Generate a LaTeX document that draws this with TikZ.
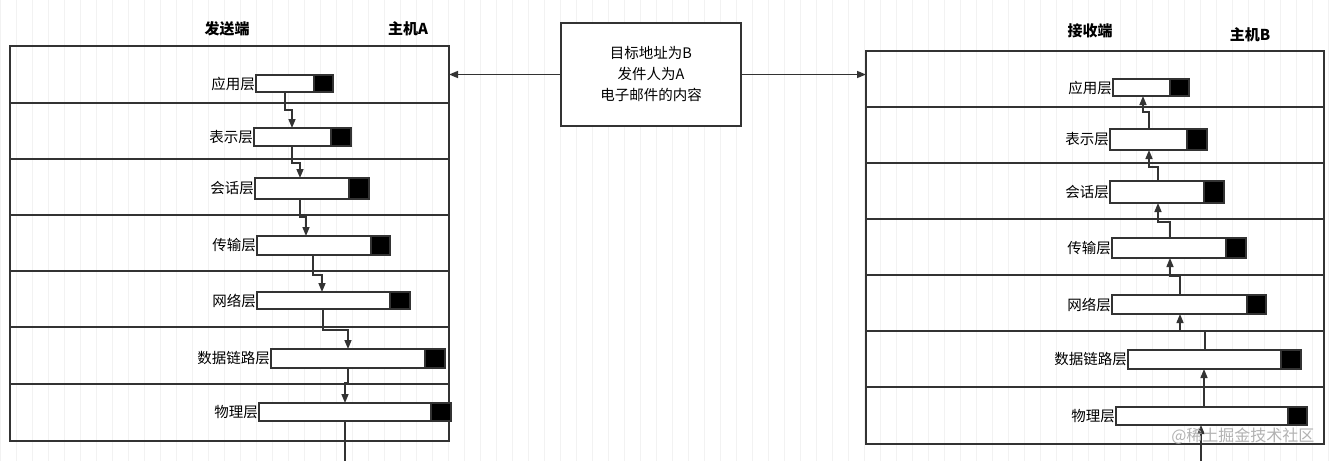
\documentclass[tikz,border=0pt]{standalone}
\usepackage{fontspec}
\setmainfont{Noto Sans CJK SC}
\usetikzlibrary{arrows.meta}
\begin{document}
\begin{tikzpicture}[x=1pt,y=-1pt,
  frame/.style={draw=black!80,line width=1.5pt},
  wbox/.style={draw=black!80,line width=1.5pt,fill=white},
  bbox/.style={draw=black!80,line width=1.5pt,fill=black},
  lab/.style={anchor=east,inner sep=1pt,font=\fontsize{14.5}{15}\selectfont},
  ttl/.style={font=\bfseries\fontsize{15}{16}\selectfont},
  flow/.style={draw=black!80,line width=1.5pt,-{Triangle[length=9pt,width=7pt]}},
  plain/.style={draw=black!80,line width=1.5pt}]
\useasboundingbox (0,0) rectangle (1334,461);
\fill[white] (0,0) rectangle (1334,461);
\draw[black!5,line width=0.5pt] (0,0) grid[step=16] (1334,461);
% left frame
\draw[frame] (10,46) rectangle (449,441);
\foreach \y in {103,159,215,271,327,384} \draw[frame] (10,\y)--(449,\y);
% right frame
\draw[frame] (866,51) rectangle (1324,444);
\foreach \y in {107,163,219,275,331,387} \draw[frame] (866,\y)--(1324,\y);
% center
\node[draw=black!80,line width=1.5pt,fill=white,minimum width=180pt,minimum height=103pt,align=center,font=\fontsize{14.5}{21}\selectfont] (msg) at (651,74.5) {目标地址为B\\发件人为A\\电子邮件的内容};
\draw[flow] (msg.west) -- (449,74.5) coordinate (la);
\draw[flow] (msg.east) -- (866,74.5) coordinate (ra);
% titles
\node[ttl] (t1) at (227,29) {发送端};
\node[ttl] (t2) at (408,29) {主机A};
\node[ttl] (t3) at (1090,31) {接收端};
\node[ttl] (t4) at (1250,35) {主机B};
\foreach \n/\a/\b/\c/\ya/\yb/\t in {
 L1/256/314/333/75/92/应用层, L2/254/331/351/128/146/表示层, L3/255/349/369/178/199/会话层,
 L4/257/371/390/236/255/传输层, L5/257/390/410/292/309/网络层, L6/271/425/445/349/368/数据链路层,
 L7/259/431/451/403/421/物理层,
 R1/1113/1170/1189/79/96/应用层, R2/1110/1187/1207/129/150/表示层, R3/1110/1204/1224/181/203/会话层,
 R4/1112/1226/1246/238/258/传输层, R5/1112/1247/1266/295/314/网络层, R6/1128/1281/1301/350/369/数据链路层,
 R7/1116/1288/1307/407/425/物理层}{
 \draw[wbox] (\a,\ya) rectangle (\b,\yb);
 \draw[bbox] (\b,\ya) rectangle (\c,\yb);
 \coordinate (\n) at (\a,{(\ya+\yb)/2});
 \node[lab] (\n t) at (\n) {\t};
}
% left arrows (down)
\draw[flow] (285,92) -- (285,110) -- (292,110) -- (292,128);
\draw[flow] (292,146) -- (292,163) -- (300,163) -- (300,178);
\draw[flow] (300,199) -- (300,217) -- (306,217) -- (306,236);
\draw[flow] (313,255) -- (313,275) -- (322,275) -- (322,292);
\draw[flow] (323,309) -- (323,330) -- (348,330) -- (348,349);
\draw[flow] (348,368) -- (348,383) -- (345,383) -- (345,403);
\draw[plain] (345,421) -- (345,461);
% right arrows (up)
\draw[flow] (1201,461) -- (1201,425);
\draw[flow] (1204,407) -- (1204,369);
\draw[flow] (1205,350) -- (1205,331) -- (1180,331) -- (1180,314);
\draw[flow] (1180,295) -- (1180,276) -- (1170,276) -- (1170,258);
\draw[flow] (1170,238) -- (1170,222) -- (1158,222) -- (1158,203);
\draw[flow] (1158,181) -- (1158,167) -- (1149,167) -- (1149,150);
\draw[flow] (1149,129) -- (1149,112) -- (1143,112) -- (1143,96);
% watermark
\node[text=black!30,font=\fontsize{16}{17}\selectfont,anchor=east] (wm) at (1318,436) {@稀土掘金技术社区};
\end{tikzpicture}
\end{document}
